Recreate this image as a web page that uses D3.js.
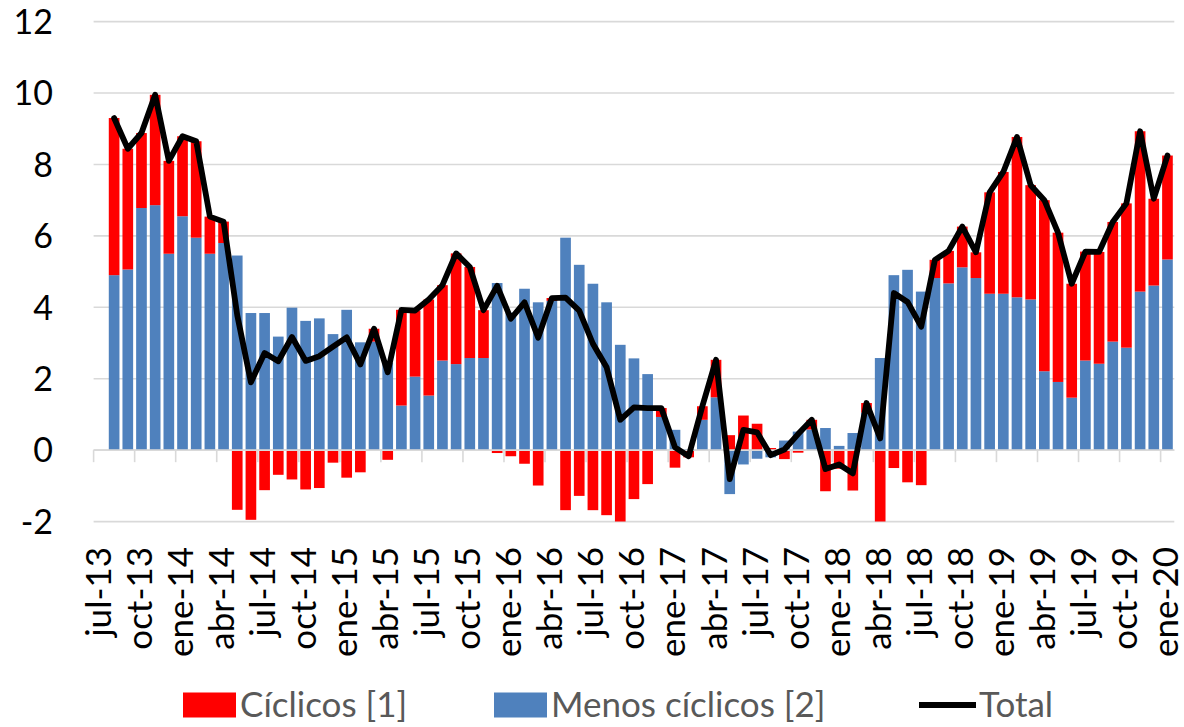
<!DOCTYPE html>
<html><head><meta charset="utf-8">
<script src="https://cdn.jsdelivr.net/npm/d3@7"></script>
<style>body{margin:0;background:#fff}svg{display:block}</style>
</head><body>
<svg id="chart" width="1184" height="727"></svg>
<script>
const months = ["jul-13","ago-13","sep-13","oct-13","nov-13","dic-13",
"ene-14","feb-14","mar-14","abr-14","may-14","jun-14","jul-14","ago-14","sep-14","oct-14","nov-14","dic-14",
"ene-15","feb-15","mar-15","abr-15","may-15","jun-15","jul-15","ago-15","sep-15","oct-15","nov-15","dic-15",
"ene-16","feb-16","mar-16","abr-16","may-16","jun-16","jul-16","ago-16","sep-16","oct-16","nov-16","dic-16",
"ene-17","feb-17","mar-17","abr-17","may-17","jun-17","jul-17","ago-17","sep-17","oct-17","nov-17","dic-17",
"ene-18","feb-18","mar-18","abr-18","may-18","jun-18","jul-18","ago-18","sep-18","oct-18","nov-18","dic-18",
"ene-19","feb-19","mar-19","abr-19","may-19","jun-19","jul-19","ago-19","sep-19","oct-19","nov-19","dic-19",
"ene-20"];

const ciclicos = [null,4.4,3.38,2.1,3.09,2.6,2.24,2.7,1.04,0.6,-1.67,-1.95,-1.12,-0.69,-0.82,-1.1,-1.06,-0.35,-0.77,-0.62,
0.36,-0.27,2.68,1.85,2.69,2.11,3.1,2.55,1.34,-0.08,-0.17,-0.38,-0.99,0.08,-1.68,-1.28,-1.68,-1.82,-2.1,-1.37,
-0.95,0.25,-0.49,-0.2,0.38,1.05,0.42,0.97,0.74,0.06,-0.25,-0.07,0.27,-1.15,-0.52,-1.13,0.27,-2.25,-0.5,-0.9,
-0.98,0.51,0.91,1.14,0.72,2.84,3.41,4.49,3.2,4.79,4.18,3.19,3.05,3.13,3.35,4.04,4.49,2.43,2.91];

const menosCiclicos = [null,4.9,5.06,6.78,6.86,5.5,6.55,5.95,5.5,5.8,5.45,3.84,3.84,3.18,3.99,3.62,3.69,3.25,3.93,3.02,
3.04,2.45,1.25,2.06,1.53,2.51,2.41,2.58,2.58,4.68,3.85,4.52,4.14,4.18,5.95,5.19,4.66,4.14,2.95,2.57,
2.13,0.93,0.57,0.03,0.85,1.48,-1.23,-0.4,-0.24,-0.2,0.27,0.52,0.58,0.62,0.12,0.48,1.05,2.58,4.9,5.05,
4.44,4.82,4.67,5.12,4.82,4.38,4.38,4.28,4.22,2.21,1.91,1.47,2.51,2.42,3.04,2.87,4.44,4.61,5.34];

const total = [null,9.3,8.44,8.88,9.95,8.1,8.79,8.65,6.54,6.4,3.78,1.9,2.72,2.49,3.17,2.5,2.63,2.9,3.16,2.4,
3.4,2.18,3.93,3.91,4.22,4.62,5.51,5.13,3.92,4.6,3.68,4.14,3.15,4.26,4.27,3.91,2.98,2.32,0.85,1.2,
1.18,1.18,0.08,-0.17,1.23,2.53,-0.81,0.57,0.5,-0.14,0.02,0.45,0.85,-0.53,-0.4,-0.65,1.32,0.33,4.4,4.15,
3.46,5.33,5.58,6.26,5.54,7.22,7.79,8.77,7.42,7.0,6.09,4.66,5.56,5.55,6.39,6.91,8.93,7.04,8.25];

const yTicks = [-2,0,2,4,6,8,10,12];
const seriesNames = ["Cíclicos [1]","Menos cíclicos [2]","Total"];
const colors = {ciclicos:"#FF0000", menos:"#4F81BD", total:"#000000"};

const svg = d3.select("#chart");
const FONT = "Lato, 'Open Sans', sans-serif";
const pLeft = 93.6, pRight = 1174.3, pTop = 21.6, pBottom = 521.6;

const x = d3.scaleBand().domain(months).range([pLeft, pRight]).paddingInner(0.22).paddingOuter(0.11);
const y = d3.scaleLinear().domain([-2, 12]).range([pBottom, pTop]);

// gridlines
svg.append("g").selectAll("line").data(yTicks).join("line")
  .attr("x1", pLeft).attr("x2", pRight)
  .attr("y1", d => y(d)).attr("y2", d => y(d))
  .attr("stroke", "#D9D9D9").attr("stroke-width", 1.6);

// y labels
svg.append("g").selectAll("text").data(yTicks).join("text")
  .attr("x", 53).attr("y", d => y(d)).attr("dy", "0.36em")
  .attr("text-anchor", "end").attr("font-family", FONT).attr("font-size", 34)
  .attr("fill", "#000").text(d => d);

// clip
svg.append("defs").append("clipPath").attr("id", "plot")
  .append("rect").attr("x", pLeft).attr("y", pTop - 5).attr("width", pRight - pLeft).attr("height", pBottom - pTop + 5);

// stacked data
const rows = months.map((m, i) => ({m, menos: menosCiclicos[i] ?? 0, ciclicos: ciclicos[i] ?? 0}));
const stack = d3.stack().keys(["menos", "ciclicos"]).offset(d3.stackOffsetDiverging)(rows);

const gBars = svg.append("g").attr("clip-path", "url(#plot)");
stack.forEach(s => {
  gBars.append("g").attr("fill", colors[s.key]).selectAll("rect").data(s).join("rect")
    .attr("x", d => x(d.data.m))
    .attr("width", x.bandwidth())
    .attr("y", d => y(Math.max(d[0], d[1])))
    .attr("height", d => Math.abs(y(d[0]) - y(d[1])));
});

// zero axis line
svg.append("line").attr("x1", pLeft).attr("x2", pRight).attr("y1", y(0)).attr("y2", y(0))
  .attr("stroke", "#D9D9D9").attr("stroke-width", 1.6);

// tick marks every 3 categories (at category boundaries)
const tickCats = months.filter((m, i) => i % 3 === 0);
const halfGap = x.step() * x.paddingInner() / 2;
svg.append("g").selectAll("line").data(tickCats).join("line")
  .attr("x1", d => x(d) - halfGap).attr("x2", d => x(d) - halfGap)
  .attr("y1", y(0)).attr("y2", y(0) + 12)
  .attr("stroke", "#D9D9D9").attr("stroke-width", 1.6);

// x labels
svg.append("g").selectAll("text").data(tickCats).join("text")
  .attr("transform", d => `translate(${x(d) + x.bandwidth() / 2},547) rotate(-90)`)
  .attr("dy", "0.3em").attr("text-anchor", "end")
  .attr("font-family", FONT).attr("font-size", 35).attr("fill", "#000").text(d => d);

// total line
const line = d3.line().defined(d => d.v !== null)
  .x(d => x(d.m) + x.bandwidth() / 2).y(d => y(d.v));
svg.append("path").datum(months.map((m, i) => ({m, v: total[i]})))
  .attr("d", line).attr("fill", "none").attr("stroke", colors.total)
  .attr("stroke-width", 5.8).attr("stroke-linejoin", "round").attr("stroke-linecap", "round");

// legend
const lg = svg.append("g").attr("font-family", FONT).attr("font-size", 35).attr("fill", "#595959");
const ly = 705;
lg.append("rect").attr("x", 183).attr("y", ly - 12.5).attr("width", 53).attr("height", 25).attr("fill", colors.ciclicos);
lg.append("text").attr("x", 240).attr("y", ly).attr("dy", "0.34em").text(seriesNames[0]);
lg.append("rect").attr("x", 494).attr("y", ly - 12.5).attr("width", 53).attr("height", 25).attr("fill", colors.menos);
lg.append("text").attr("x", 551).attr("y", ly).attr("dy", "0.34em").text(seriesNames[1]);
lg.append("line").attr("x1", 919).attr("x2", 976).attr("y1", ly).attr("y2", ly)
  .attr("stroke", colors.total).attr("stroke-width", 5.8);
lg.append("text").attr("x", 979).attr("y", ly).attr("dy", "0.34em").text(seriesNames[2]);
</script>
</body></html>
